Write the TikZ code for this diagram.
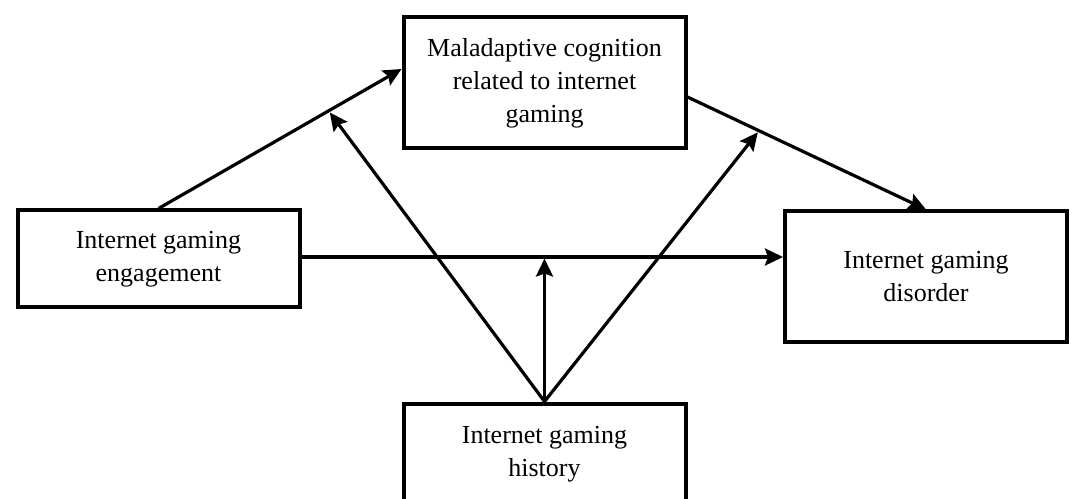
\documentclass[tikz,border=0pt]{standalone}
\usepackage{fontspec}
\setmainfont{Liberation Serif}
\usepackage{tikz}
\usetikzlibrary{arrows.meta, positioning, calc}
\tikzstyle{box} = [rectangle, minimum width=282pt, text centered, align=center, draw=black, line width=4pt, font=\fontsize{26}{33}\selectfont]
\tikzstyle{arrow} = [line width=3.2pt, -{Stealth[length=18pt, width=17pt, inset=3pt]}]

\begin{document}
\begin{tikzpicture}[x=1pt, y=1pt, node distance=386pt]
\useasboundingbox (0,0) rectangle (1075,498);

\node (cognition) [box, minimum height=131pt] at (544.5,415) {Maladaptive cognition\\related to internet\\gaming};
\node (engagement) [box, minimum height=97pt, left of=cognition, yshift=-176pt] {Internet gaming\\engagement};
\node (disorder) [box, minimum height=131pt, right of=cognition, xshift=-4.5pt, yshift=-194pt] {Internet gaming\\disorder};
\node (history) [box, minimum height=102pt, below of=cognition, yshift=14.5pt] {Internet gaming\\history};

\draw [arrow] (engagement.north) -- coordinate[pos=0.7] (pathA) ([yshift=14pt]cognition.west);
\draw [arrow] ([yshift=-14pt]cognition.east) -- coordinate[pos=0.3] (pathB) (disorder.north);
\draw [arrow] ([yshift=2pt]engagement.east) -- coordinate (pathC) ([yshift=2pt]engagement.east -| disorder.west);

\draw [arrow, shorten >=2pt] (history.north) -- (pathA);
\draw [arrow, shorten >=2pt] (history.north) -- (pathB);
\draw [arrow, shorten >=1.5pt] (history.north) -- (history.north |- pathC);

\end{tikzpicture}
\end{document}
